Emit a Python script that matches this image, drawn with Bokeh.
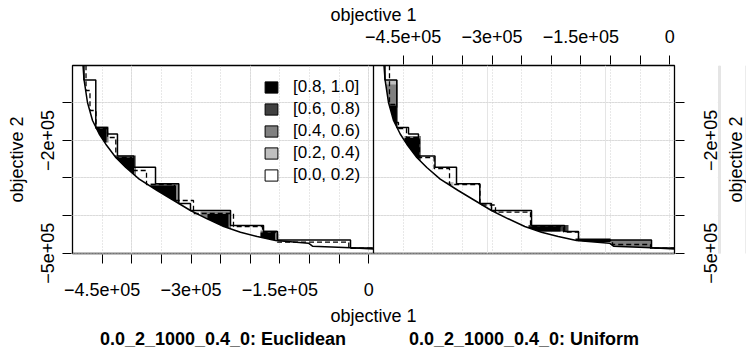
import math
import numpy as np
from bokeh.plotting import figure
from bokeh.layouts import row
from bokeh.models import (Range1d, LinearAxis, FixedTicker, Grid, Span,
                          Legend, LegendItem)
from bokeh.embed import file_html
from bokeh.resources import INLINE

# ---------------- data ----------------
X_LO, X_HI = -500000, 8000
Y_LO, Y_HI = -500900, -800

X_TICKS = [-450000, -400000, -350000, -300000, -250000, -200000, -150000, -100000, -50000, 0]
X_TICK_LABELS = {-450000: "\u22124.5e+05", -300000: "\u22123e+05", -150000: "\u22121.5e+05", 0: "0"}
Y_TICKS = [-500000, -400000, -300000, -200000, -100000]
Y_TICK_LABELS = {-500000: "\u22125e+05", -200000: "\u22122e+05"}

LEVEL_LABELS = ["[0.8, 1.0]", "[0.6, 0.8)", "[0.4, 0.6)", "[0.2, 0.4)", "[0.0, 0.2)"]
LEVEL_COLORS = ["#000000", "#404040", "#808080", "#bfbfbf", "#ffffff"]

PANEL_TITLES = ["0.0_2_1000_0.4_0: Euclidean", "0.0_2_1000_0.4_0: Uniform"]

# grand best attainment surface (both algorithms)
BEST_X = [-482300, -480600, -474700, -466200, -454900, -443800, -426900, -410000, -387400,
          -357100, -329000, -300900, -272700, -244700, -216500, -188300, -157400, -101700,
          -95000, -30800, 8000]
BEST_Y = [0, -38000, -99200, -147100, -183000, -210100, -245500, -272100, -303200,
          -333300, -359900, -386500, -408600, -429100, -444200, -455700, -466300, -473500,
          -481500, -485700, -488900]

# grand worst attainment surface (corner points)
WORST_X = [-480600, -460700, -440900, -424100, -396200, -359900, -320600, -300900, -233300,
           -177600, -154000, -30800]
WORST_Y = [-39400, -165700, -183000, -241500, -271300, -315500, -367900, -386500, -426400,
           -442400, -465000, -486000]

# median attainment surfaces
MED_EUC_X = [-477200, -470500, -460300, -440900, -426900, -400400, -375100, -327900, -295800,
             -228300, -179300, -154000, -33700]
MED_EUC_Y = [-67300, -120500, -168400, -192300, -245500, -280100, -317300, -359900, -394500,
             -429100, -445000, -470800, -487000]
MED_UNI_X = [-473000, -463700, -457800, -444300, -422400, -397600, -371700, -320300, -294100,
             -235000, -179300, -154000, -96600, -32500]
MED_UNI_Y = [-104500, -152400, -168400, -192300, -245500, -274800, -317300, -371900, -391000,
             -429100, -443700, -466300, -476900, -487000]

# EAF difference regions: level index 0 = [0.8,1.0], 1 = [0.6,0.8), 2 = [0.4,0.6), 3 = [0.2,0.4)
EUC_X0 = [-461200, -461200, -429100, -429100, -368400, -368400, -284000, -272200, -182700, -182700]
EUC_X1 = [-439200, -442600, -392800, -396200, -321100, -325300, -232500, -236700, -154900, -158200]
EUC_Y0 = [-205600, -205600, -293400, -293400, -373200, -373200, -439700, -439700, -466300, -466300]
EUC_Y1 = [-163100, -168400, -240200, -245500, -314700, -320000, -389200, -395800, -439700, -445000]
EUC_LVL = [2, 0, 2, 0, 2, 0, 2, 0, 2, 0]

UNI_X0 = [-488200, -488200, -488200, -447700, -447700, -378500, -238400, -238400, -159100, -100000]
UNI_X1 = [-458700, -459500, -462000, -419800, -422400, -365000, -170900, -184400, -100000, -30000]
UNI_Y0 = [-112500, -112500, -165700, -253500, -253500, -322700, -442400, -442400, -470300, -487600]
UNI_Y1 = [-39400, -51300, -107200, -188300, -193700, -310700, -425100, -429100, -461000, -465000]
UNI_LVL = [3, 2, 0, 2, 0, 3, 1, 0, 0, 2]

# ---------------- helpers ----------------
FONT = "Liberation Sans"
BX = np.array(BEST_X, dtype=float)
BY = np.array(BEST_Y, dtype=float)


def stair(cx, cy, x_end, y_top=0):
    xs, ys = [cx[0]], [y_top]
    for i in range(len(cx)):
        xs.append(cx[i]); ys.append(cy[i])
        nx = cx[i + 1] if i + 1 < len(cx) else x_end
        xs.append(nx); ys.append(cy[i])
    return xs, ys


def clip_region(x0, x1, y0, y1):
    inner = BX[(BX > x0) & (BX < x1)]
    xs = np.unique(np.concatenate([np.linspace(x0, x1, 80), inner]))
    low = np.clip(np.interp(xs, BX, BY), y0, y1)
    px = [x0, x1] + list(xs[::-1])
    py = [y1, y1] + list(low[::-1])
    return px, py


# ---------------- main figure (both panels) ----------------
FRAME_W, FRAME_H = 602, 188
span = X_HI - X_LO
y_range = Range1d(Y_LO, Y_HI)
p = figure(frame_width=FRAME_W, frame_height=FRAME_H, output_backend="svg",
           toolbar_location=None,
           x_range=Range1d(X_LO, X_HI + span), y_range=y_range,
           x_axis_location=None, y_axis_location=None,
           min_border_left=72, min_border_right=17, min_border_top=65, min_border_bottom=104)
p.extra_x_ranges = {"right": Range1d(X_LO - span, X_HI)}
p.outline_line_color = "black"
p.outline_line_width = 1.3
p.background_fill_color = "white"
p.border_fill_color = "white"

# grids
for rname in ["default", "right"]:
    g = Grid(dimension=0, ticker=FixedTicker(ticks=X_TICKS), x_range_name=rname,
             grid_line_color="#d0d0d0", grid_line_dash="1 2", grid_line_width=1)
    p.add_layout(g)
gy = Grid(dimension=1, ticker=FixedTicker(ticks=Y_TICKS),
          grid_line_color="#d0d0d0", grid_line_dash="1 2", grid_line_width=1)
p.add_layout(gy)

panels = [
    ("default", (EUC_X0, EUC_X1, EUC_Y0, EUC_Y1, EUC_LVL), (MED_EUC_X, MED_EUC_Y)),
    ("right", (UNI_X0, UNI_X1, UNI_Y0, UNI_Y1, UNI_LVL), (MED_UNI_X, MED_UNI_Y)),
]
for rname, (fx0, fx1, fy0, fy1, flv), (mx, my) in panels:
    for lvl in [3, 2, 1, 0]:
        xs_l, ys_l = [], []
        for a, b, c, d, l in zip(fx0, fx1, fy0, fy1, flv):
            if l == lvl:
                px, py = clip_region(a, b, c, d)
                xs_l.append(px); ys_l.append(py)
        if xs_l:
            p.patches(xs_l, ys_l, fill_color=LEVEL_COLORS[lvl], line_color=None,
                      x_range_name=rname)
    p.line(BEST_X, BEST_Y, line_color="black", line_width=1.5, x_range_name=rname)
    wx, wy = stair(WORST_X, WORST_Y, X_HI)
    p.line(wx, wy, line_color="black", line_width=1.5, x_range_name=rname)
    sx, sy = stair(mx, my, X_HI)
    p.line(sx, sy, line_color="black", line_width=1.3, line_dash="5 3", x_range_name=rname)

p.add_layout(Span(location=X_HI, dimension="height", line_color="black", line_width=1.3))


# axes
def style_axis(ax, ticks, labels):
    ax.ticker = FixedTicker(ticks=ticks, minor_ticks=[])
    ax.major_label_overrides = {float(t): labels.get(t, "") for t in ticks}
    ax.axis_line_color = None
    ax.major_tick_in = -1
    ax.major_tick_out = 10
    ax.major_tick_line_color = "black"
    ax.major_tick_line_width = 1
    ax.minor_tick_line_color = None
    ax.major_label_text_font = FONT
    ax.major_label_text_font_size = "18px"
    ax.major_label_text_color = "black"
    ax.axis_label_text_font = FONT
    ax.axis_label_text_font_size = "18px"
    ax.axis_label_text_font_style = "normal"
    ax.axis_label_text_color = "black"


ax_b = LinearAxis(axis_label="objective 1")
style_axis(ax_b, X_TICKS, X_TICK_LABELS)
ax_b.major_label_standoff = 19
ax_b.axis_label_standoff = 7
p.add_layout(ax_b, "below")

# panel titles: an unticked axis whose labels sit under each panel's centre
title_pos = [(X_LO + X_HI) / 2, (X_LO + X_HI) / 2 + span]
ax_title = LinearAxis(ticker=FixedTicker(ticks=title_pos, minor_ticks=[]))
ax_title.major_label_overrides = {float(t): s for t, s in zip(title_pos, PANEL_TITLES)}
ax_title.axis_line_color = None
ax_title.major_tick_line_color = None
ax_title.major_tick_in = 0
ax_title.major_tick_out = 0
ax_title.minor_tick_line_color = None
ax_title.major_label_standoff = 0
ax_title.major_label_text_font = FONT
ax_title.major_label_text_font_size = "18px"
ax_title.major_label_text_font_style = "bold"
ax_title.major_label_text_color = "black"
p.add_layout(ax_title, "below")

ax_t = LinearAxis(axis_label="objective 1", x_range_name="right")
style_axis(ax_t, X_TICKS, X_TICK_LABELS)
ax_t.major_label_standoff = 13
ax_t.axis_label_standoff = 2
p.add_layout(ax_t, "above")

ax_l = LinearAxis(axis_label="objective 2")
style_axis(ax_l, Y_TICKS, Y_TICK_LABELS)
ax_l.major_label_orientation = "vertical"
ax_l.major_label_standoff = 8
ax_l.axis_label_standoff = 12
p.add_layout(ax_l, "left")

# right side of the right panel: tick marks only (drawn as minor ticks, no labels)
ax_r = LinearAxis(ticker=FixedTicker(ticks=[], minor_ticks=Y_TICKS))
ax_r.axis_line_color = None
ax_r.major_tick_out = 10
ax_r.major_tick_line_color = None
ax_r.minor_tick_in = -1
ax_r.minor_tick_out = 10
ax_r.minor_tick_line_color = "black"
ax_r.minor_tick_line_width = 1
p.add_layout(ax_r, "right")

# legend (left panel)
items = []
for lab, col in zip(LEVEL_LABELS, LEVEL_COLORS):
    r = p.quad(left=[np.nan], right=[np.nan], top=[np.nan], bottom=[np.nan],
               fill_color=col, line_color="black", line_width=1)
    items.append(LegendItem(label=lab, renderers=[r]))
leg = Legend(items=items, location=(191, 68), padding=0, margin=0, spacing=2,
             glyph_width=16, glyph_height=14, label_standoff=14, label_height=20,
             label_text_font=FONT, label_text_font_size="17px", label_text_color="black",
             border_line_color=None, background_fill_alpha=0)
p.add_layout(leg, "center")


# ---------------- narrow strips carrying the right-hand y labels ----------------
def strip(border_left, frame_w):
    f = figure(frame_width=frame_w, frame_height=FRAME_H, output_backend="svg",
               toolbar_location=None, x_range=Range1d(0, 1), y_range=y_range,
               x_axis_location=None, y_axis_location=None,
               min_border_left=border_left, min_border_right=0,
               min_border_top=65, min_border_bottom=104)
    f.outline_line_color = None
    f.background_fill_color = "white"
    f.border_fill_color = "white"
    return f


# tick labels (read bottom-to-top, centred on their ticks)
q = strip(26, 4)
q_lab = LinearAxis()
style_axis(q_lab, Y_TICKS, Y_TICK_LABELS)
q_lab.major_tick_line_color = None
q_lab.major_tick_in = 0
q_lab.major_tick_out = 0
q_lab.major_label_orientation = "vertical"
q_lab.major_label_standoff = 0
q.add_layout(q_lab, "left")

# axis name
s = strip(24, 1)
s_name = LinearAxis(ticker=FixedTicker(ticks=[], minor_ticks=[]), axis_label="objective 2")
s_name.axis_line_color = None
s_name.major_tick_line_color = None
s_name.major_tick_in = 0
s_name.major_tick_out = 0
s_name.minor_tick_line_color = None
s_name.axis_label_standoff = 0
s_name.axis_label_text_font = FONT
s_name.axis_label_text_font_size = "18px"
s_name.axis_label_text_font_style = "normal"
s_name.axis_label_text_color = "black"
s.add_layout(s_name, "left")

layout = row(p, q, s)
open("out.html", "w").write(file_html(layout, INLINE))
